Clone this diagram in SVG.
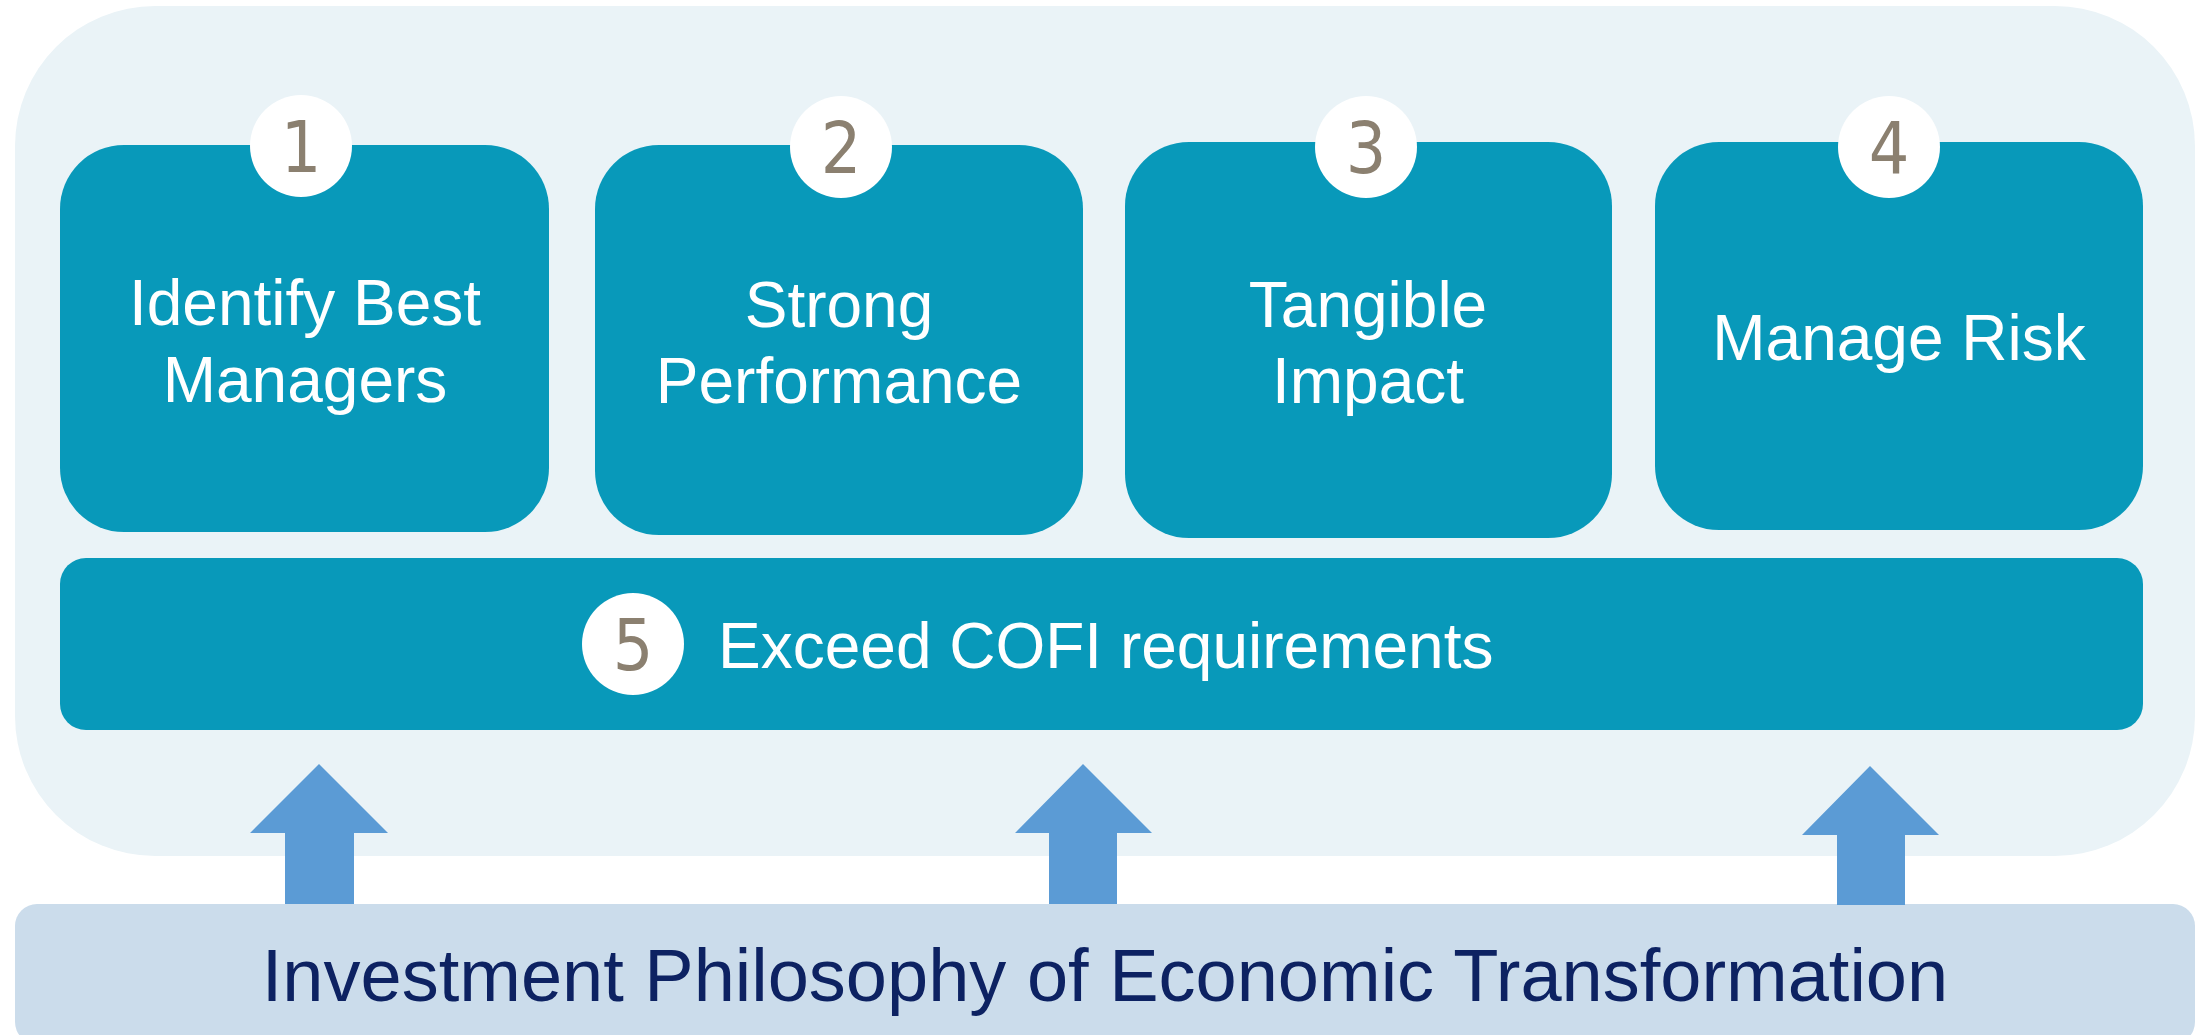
<svg xmlns="http://www.w3.org/2000/svg" width="2204" height="1035" viewBox="0 0 2204 1035">
<defs>
<style>
.panel{fill:#EAF3F7}
.box{fill:#0899BA}
.badge{fill:#FFFFFF}
.num{font-family:"DejaVu Sans Condensed","DejaVu Sans",sans-serif;font-size:71px;fill:#8B8070;text-anchor:middle}
.lbl{font-family:"Liberation Sans",Arial,sans-serif;font-size:64px;fill:#FFFFFF;text-anchor:middle}
.base{fill:#CBDCEB}
.basetxt{font-family:"Liberation Sans",Arial,sans-serif;font-size:74px;fill:#0D2262;text-anchor:middle}
.arrow{fill:#5B9BD5}
</style>
</defs>
<rect width="2204" height="1035" fill="#FFFFFF"/>
<rect id="panel" class="panel" x="15" y="6" width="2180" height="850" rx="140" ry="140"/>
<g id="node1">
<rect class="box" x="60" y="145" width="489" height="387" rx="64"/>
<circle class="badge" cx="301" cy="146" r="51"/>
<text class="num" x="301" y="172">1</text>
<text class="lbl" x="305" y="325">Identify Best</text>
<text class="lbl" x="305" y="402">Managers</text>
</g>
<g id="node2">
<rect class="box" x="595" y="145" width="488" height="390" rx="64"/>
<circle class="badge" cx="841" cy="147" r="51"/>
<text class="num" x="841" y="173">2</text>
<text class="lbl" x="839" y="327">Strong</text>
<text class="lbl" x="839" y="403">Performance</text>
</g>
<g id="node3">
<rect class="box" x="1125" y="142" width="487" height="396" rx="64"/>
<circle class="badge" cx="1366" cy="147" r="51"/>
<text class="num" x="1366" y="173">3</text>
<text class="lbl" x="1368" y="327">Tangible</text>
<text class="lbl" x="1368" y="403">Impact</text>
</g>
<g id="node4">
<rect class="box" x="1655" y="142" width="488" height="388" rx="64"/>
<circle class="badge" cx="1889" cy="147" r="51"/>
<text class="num" x="1889" y="173">4</text>
<text class="lbl" x="1899" y="360">Manage Risk</text>
</g>
<g id="node5">
<rect class="box" x="60" y="558" width="2083" height="172" rx="26"/>
<circle class="badge" cx="633" cy="644" r="51"/>
<text class="num" x="633" y="670">5</text>
<text class="lbl" x="718" y="668" style="text-anchor:start">Exceed COFI requirements</text>
</g>
<g id="base">
<rect class="base" x="15" y="904" width="2180" height="140" rx="22"/>
<text class="basetxt" x="1105" y="1001">Investment Philosophy of Economic Transformation</text>
</g>
<g id="connectors">
<polygon class="arrow" points="319,764 388,833 354,833 354,904 285,904 285,833 250,833"/>
<polygon class="arrow" points="1083,764 1152,833 1117,833 1117,904 1049,904 1049,833 1015,833"/>
<polygon class="arrow" points="1870,766 1939,835 1905,835 1905,905 1837,905 1837,835 1802,835"/>
</g>
</svg>
